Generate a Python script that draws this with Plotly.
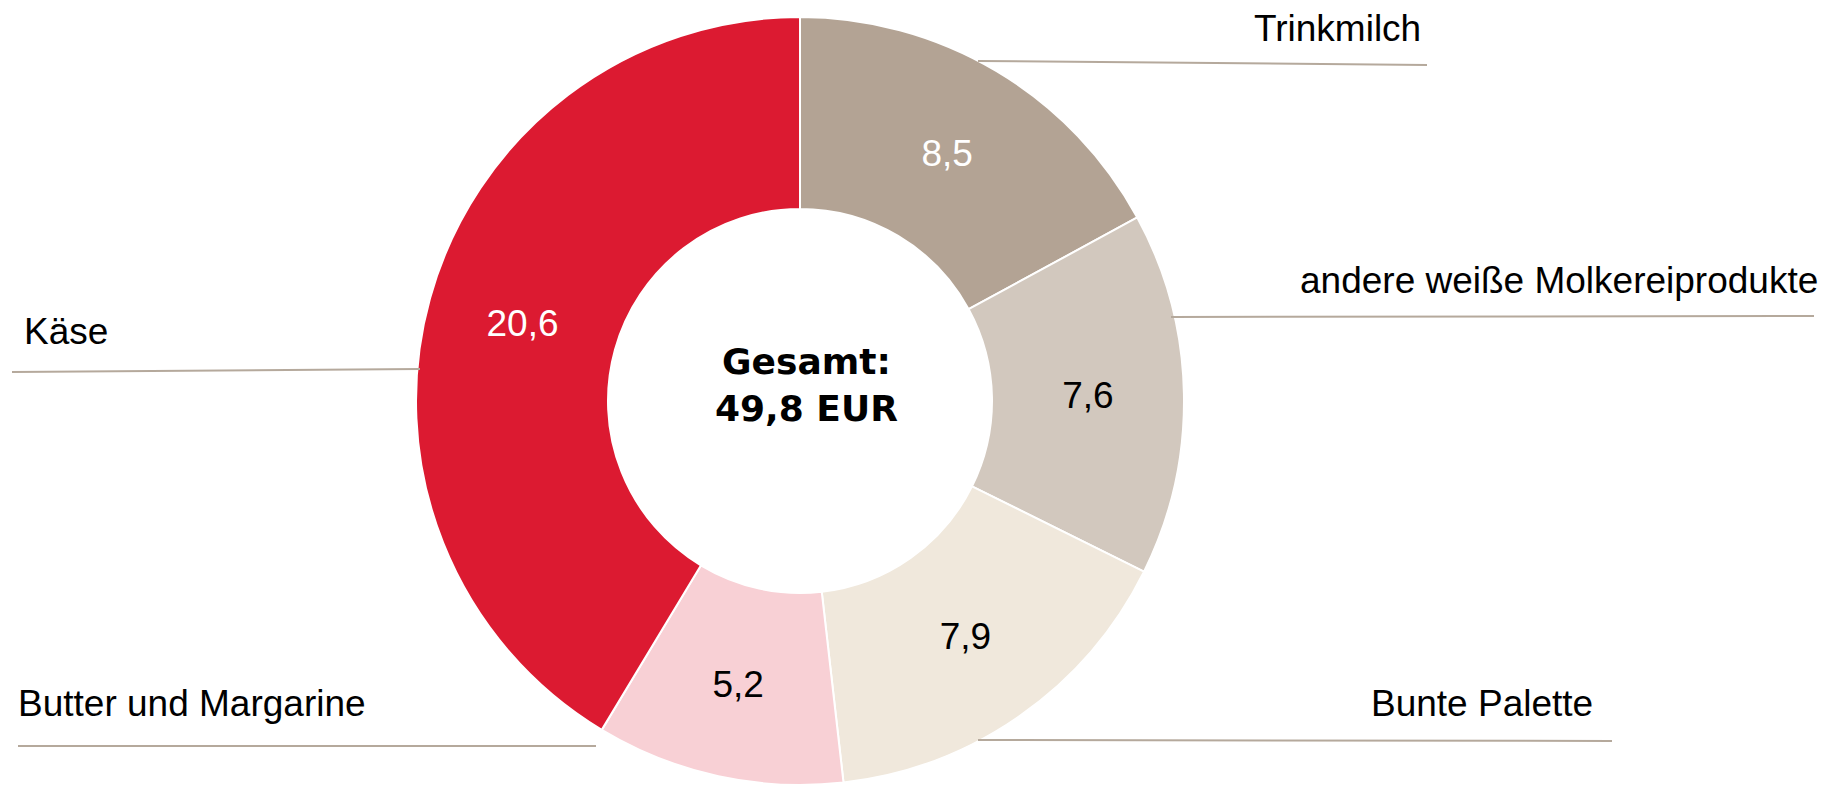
import plotly.graph_objects as go

W, H = 1841, 785

categories = ["Trinkmilch", "andere weiße Molkereiprodukte", "Bunte Palette",
              "Butter und Margarine", "Käse"]
values = [8.5, 7.6, 7.9, 5.2, 20.6]
total_label = "Gesamt:<br>49,8 EUR"

slice_colors = ["#B3A394", "#D2C8BE", "#F0E8DC", "#F8D0D5", "#DC1A31"]
text_colors = ["white", "black", "black", "black", "white"]

# pie geometry in pixels
cx, cy, R = 800, 401, 384

fig = go.Figure()
fig.add_trace(go.Pie(
    labels=categories,
    values=values,
    sort=False,
    direction="clockwise",
    rotation=0,
    hole=0.5,
    marker=dict(colors=slice_colors, line=dict(color="white", width=2)),
    texttemplate="%{value:.1f}",
    textposition="inside",
    insidetextorientation="horizontal",
    textfont=dict(family="Liberation Sans, Arial, sans-serif", size=37, color=text_colors),
    showlegend=False,
    hoverinfo="label+value",
    domain=dict(x=[(cx - R) / W, (cx + R) / W], y=[1 - (cy + R) / H, 1 - (cy - R) / H]),
))

# outside labels: (anchor x, baseline y, xanchor)
label_pos = {
    "Trinkmilch": (1423, 41, "right"),
    "andere weiße Molkereiprodukte": (1820, 293, "right"),
    "Bunte Palette": (1595, 715, "right"),
    "Butter und Margarine": (16, 715, "left"),
    "Käse": (22, 343, "left"),
}
leader_lines = {
    "Trinkmilch": ((978, 61), (1427, 65)),
    "andere weiße Molkereiprodukte": ((1171, 317), (1814, 316)),
    "Bunte Palette": ((978, 740), (1612, 741)),
    "Butter und Margarine": ((18, 746), (596, 746)),
    "Käse": ((12, 372), (420, 369)),
}

annotations = []
shapes = []
for cat in categories:
    x, yb, xa = label_pos[cat]
    annotations.append(dict(
        x=x / W, y=1 - (yb - 12) / H, xref="paper", yref="paper",
        text=cat, showarrow=False, xanchor=xa, yanchor="middle",
        font=dict(family="Liberation Sans, Arial, sans-serif", size=37, color="black"),
    ))
    (x0, y0), (x1, y1) = leader_lines[cat]
    shapes.append(dict(
        type="line", xref="paper", yref="paper",
        x0=x0 / W, y0=1 - y0 / H, x1=x1 / W, y1=1 - y1 / H,
        line=dict(color="#B5A99C", width=2), layer="above",
    ))

annotations.append(dict(
    x=806 / W, y=1 - 385 / H, xref="paper", yref="paper",
    text="<b>" + total_label + "</b>", showarrow=False,
    xanchor="center", yanchor="middle",
    font=dict(family="DejaVu Sans, sans-serif", size=36, color="black"),
))

fig.update_layout(
    width=W, height=H,
    margin=dict(l=0, r=0, t=0, b=0),
    paper_bgcolor="white",
    plot_bgcolor="white",
    separators=",.",
    annotations=annotations,
    shapes=shapes,
)

fig.write_html(
    "out.html",
    config={"displayModeBar": False},
    post_script="document.body.style.margin='0';document.body.style.overflow='hidden';",
)
